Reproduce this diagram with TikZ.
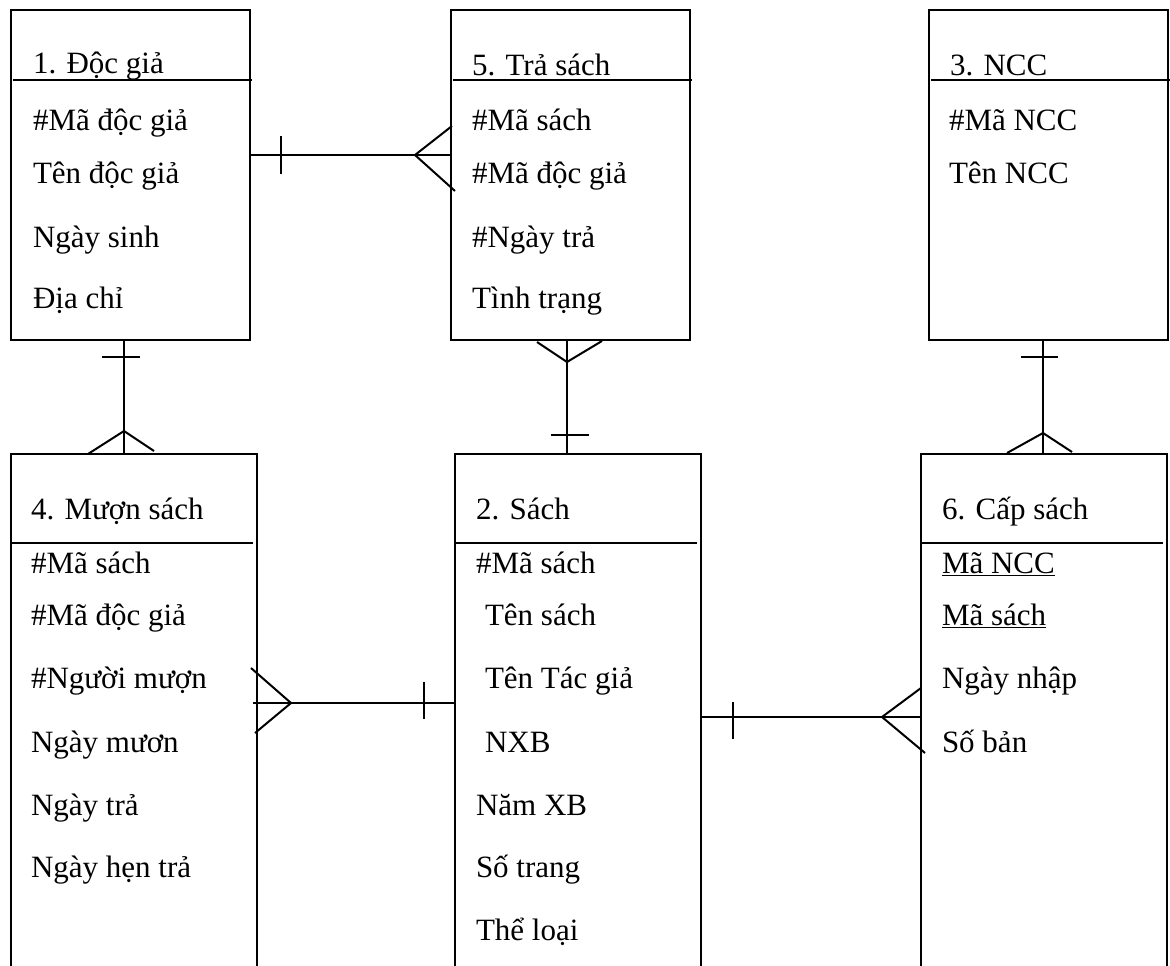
\documentclass[tikz,border=0pt]{standalone}
\usepackage{fontspec}
\setmainfont{Liberation Serif}
\usetikzlibrary{calc}
\tikzset{
  box/.style={draw, line width=2pt, rectangle, anchor=north west, inner sep=0pt, outer sep=0pt},
  conn/.style={draw, line width=2pt},
  hdr/.style={draw, line width=2pt},
  txt/.style={anchor=base west, inner sep=0pt, outer sep=0pt, font=\fontsize{31}{37}\selectfont}
}
\begin{document}
\begin{tikzpicture}[x=1pt,y=-1pt]
\useasboundingbox (0,0) rectangle (1170,966);
\clip (0,0) rectangle (1170,966);
\fill[white] (0,0) rectangle (1170,966);

% entity boxes
\node[box, minimum width=239pt, minimum height=330pt] (b1) at (11,10) {};
\node[box, minimum width=239pt, minimum height=330pt] (b5) at (451,10) {};
\node[box, minimum width=239pt, minimum height=330pt] (b3) at (929,10) {};
\node[box, minimum width=246pt, minimum height=546pt] (b4) at (11,454) {};
\node[box, minimum width=246pt, minimum height=546pt] (b2) at (455,454) {};
\node[box, minimum width=246pt, minimum height=546pt] (b6) at (921,454) {};

% header separators
\coordinate (hT) at (0,80);
\coordinate (hB) at (0,543);
\draw[hdr] ($(b1.west |- hT)+(2,0)$) -- ($(b1.east |- hT)+(2,0)$);
\draw[hdr] ($(b5.west |- hT)+(2,0)$) -- ($(b5.east |- hT)+(2,0)$);
\draw[hdr] ($(b3.west |- hT)+(2,0)$) -- ($(b3.east |- hT)+(2,0)$);
\draw[hdr] (b4.west |- hB) -- ($(b4.east |- hB)+(-4,0)$);
\draw[hdr] (b2.west |- hB) -- ($(b2.east |- hB)+(-4,0)$);
\draw[hdr] (b6.west |- hB) -- ($(b6.east |- hB)+(-4,0)$);

% titles
\node[txt] (t1) at (33,74) {1. Độc giả};
\node[txt] (t5) at (472,75) {5. Trả sách};
\node[txt] (t3) at (950,75) {3. NCC};
\node[txt] (t4) at (31,519) {4. Mượn sách};
\node[txt] (t2) at (476,519) {2. Sách};
\node[txt] (t6) at (942,519) {6. Cấp sách};

% attributes box 1
\node[txt] (a11) at (33,130) {\#Mã độc giả};
\node[txt] (a12) at (33,183) {Tên độc giả};
\node[txt] (a13) at (33,247) {Ngày sinh};
\node[txt] (a14) at (33,308) {Địa chỉ};
% box 5
\node[txt] (a51) at (472,130) {\#Mã sách};
\node[txt] (a52) at (472,183) {\#Mã độc giả};
\node[txt] (a53) at (472,247) {\#Ngày trả};
\node[txt] (a54) at (472,308) {Tình trạng};
% box 3
\node[txt] (a31) at (949,130) {\#Mã NCC};
\node[txt] (a32) at (949,183) {Tên NCC};
% box 4
\node[txt] (a41) at (31,573) {\#Mã sách};
\node[txt] (a42) at (31,625) {\#Mã độc giả};
\node[txt] (a43) at (31,688) {\#Người mượn};
\node[txt] (a44) at (31,752) {Ngày mươn};
\node[txt] (a45) at (31,815) {Ngày trả};
\node[txt] (a46) at (31,877) {Ngày hẹn trả};
% box 2
\node[txt] (a21) at (476,573) {\#Mã sách};
\node[txt] (a22) at (485,625) {Tên sách};
\node[txt] (a23) at (485,688) {Tên Tác giả};
\node[txt] (a24) at (485,752) {NXB};
\node[txt] (a25) at (476,815) {Năm XB};
\node[txt] (a26) at (476,877) {Số trang};
\node[txt] (a27) at (476,940) {Thể loại};
% box 6
\node[txt] (a61) at (942,573) {\underline{Mã NCC}};
\node[txt] (a62) at (942,625) {\underline{Mã sách}};
\node[txt] (a63) at (942,688) {Ngày nhập};
\node[txt] (a64) at (942,752) {Số bản};

% helper levels
\coordinate (yA) at (0,155);
\coordinate (xB) at (124,0);
\coordinate (xC) at (567,0);
\coordinate (yD) at (0,703);
\coordinate (yE) at (0,717);
\coordinate (xF) at (1043,0);

% A: Doc gia (one) -- Tra sach (many)
\draw[conn] (b1.east |- yA) coordinate (A1) -- (b5.west |- yA) coordinate (A2);
\draw[conn] ($(A1)+(31,-19)$) -- ($(A1)+(31,19)$);
\draw[conn] ($(A2)+(1,-29)$) -- ($(A2)+(-36,0)$) -- ($(A2)+(4,36)$);

% B: Doc gia (one) -- Muon sach (many)
\draw[conn] (b1.south -| xB) coordinate (B1) -- (b4.north -| xB) coordinate (B2);
\draw[conn] ($(B1)+(-22,17)$) -- ($(B1)+(16,17)$);
\draw[conn] ($(B2)+(-36,0)$) -- ($(B2)+(0,-23)$) -- ($(B2)+(30,-3)$);

% C: Tra sach (many) -- Sach (one)
\draw[conn] (b5.south -| xC) coordinate (C1) -- (b2.north -| xC) coordinate (C2);
\draw[conn] ($(C1)+(-30,2)$) -- ($(C1)+(0,22)$) -- ($(C1)+(35,1)$);
\draw[conn] ($(C2)+(-16,-19)$) -- ($(C2)+(22,-19)$);

% D: Muon sach (many) -- Sach (one)
\draw[conn] ($(b4.east |- yD)+(-4,0)$) coordinate (D1) -- (b2.west |- yD) coordinate (D2);
\draw[conn] ($(D1)+(-2,-35)$) -- ($(D1)+(38,0)$) -- ($(D1)+(2,30)$);
\draw[conn] ($(D2)+(-31,-21)$) -- ($(D2)+(-31,16)$);

% E: Sach (one) -- Cap sach (many)
\draw[conn] (b2.east |- yE) coordinate (E1) -- (b6.west |- yE) coordinate (E2);
\draw[conn] ($(E1)+(32,-15)$) -- ($(E1)+(32,22)$);
\draw[conn] ($(E2)+(0,-29)$) -- ($(E2)+(-39,0)$) -- ($(E2)+(4,36)$);

% F: NCC (one) -- Cap sach (many)
\draw[conn] (b3.south -| xF) coordinate (F1) -- (b6.north -| xF) coordinate (F2);
\draw[conn] ($(F1)+(-22,17)$) -- ($(F1)+(15,17)$);
\draw[conn] ($(F2)+(-36,-1)$) -- ($(F2)+(0,-21)$) -- ($(F2)+(29,-2)$);
\end{tikzpicture}
\end{document}
